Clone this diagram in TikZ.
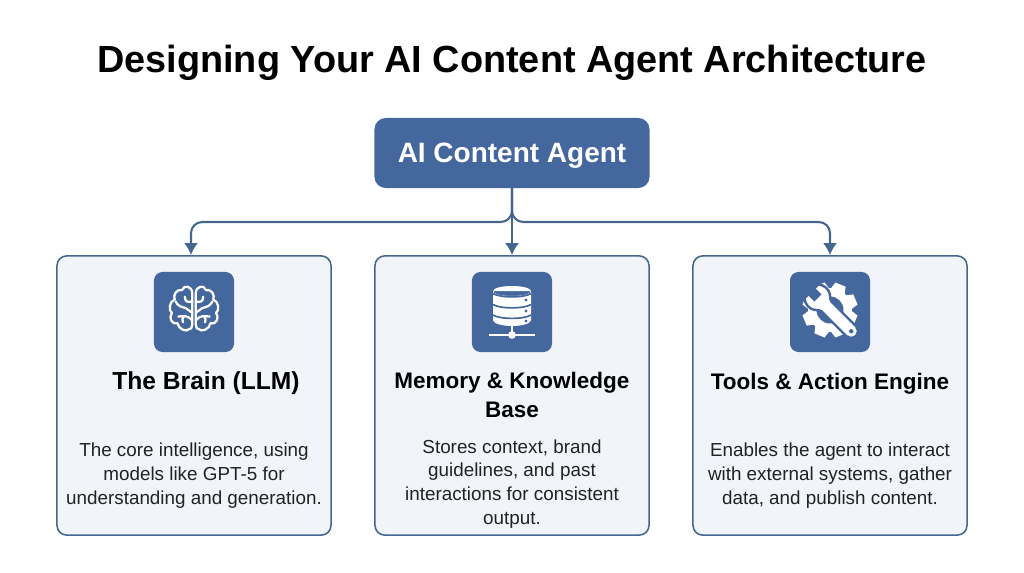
\documentclass[tikz,border=0pt]{standalone}
\usepackage{fontspec}
\setmainfont{Liberation Sans}
\usepackage{xcolor}
\definecolor{agentblue}{HTML}{44679E}
\definecolor{cardline}{HTML}{44668F}
\definecolor{cardfill}{HTML}{F1F4F9}
\definecolor{textgrey}{HTML}{222222}
\usetikzlibrary{arrows.meta}
\tikzset{
	agentbox/.style={draw=none,fill=agentblue,rounded corners=8pt,minimum width=6.875cm,minimum height=1.75cm,text=white,font=\fontsize{19.9}{24}\selectfont\bfseries},
	cardbox/.style={draw=cardline,line width=1.1pt,fill=cardfill,rounded corners=7pt,minimum width=6.85cm,minimum height=6.98cm},
	iconbox/.style={fill=agentblue,rounded corners=6pt,minimum size=2cm},
	cardhead/.style={font=\fontsize{16}{20}\selectfont\bfseries,align=center,text=black},
	cardtext/.style={font=\fontsize{13.4}{17}\selectfont,align=center,text=textgrey},
	conn/.style={draw=cardline,line width=1.5pt,-{Latex[length=8.5pt,width=10pt]}},
	glyph/.style={draw=white,line width=1.6pt,line cap=round,line join=round}
}
\newcommand{\wrenchpath}{(-25,-9) .. controls (-22,-12) and (-16,-12.5) .. (-12,-10) .. controls (-9,-8) and (-8,-5.5) .. (-5,-5.5) -- (30,-5.5) arc (-90:90:5.5) -- (-5,5.5) .. controls (-8,5.5) and (-9,8) .. (-12,10) .. controls (-16,12.5) and (-22,12) .. (-25,9) -- cycle}
\begin{document}
\begin{tikzpicture}[x=0.025cm,y=-0.025cm]
	\useasboundingbox (0,0) rectangle (1024,572);
	\node (title) at (512,62.5) {\fontsize{26.9}{30}\selectfont\bfseries Designing Your AI Content Agent Architecture};

	\node[agentbox] (agent) at (512,153) {\raisebox{-7pt}[0pt][0pt]{AI Content Agent}};
	\coordinate (fork) at (512,222);
	\coordinate (brainin) at (191,255);

	\node[cardbox] (brain) at (194,395.5) {};
	\node[cardbox] (memory) at (512,395.5) {};
	\node[cardbox] (tools) at (830,395.5) {};

	\draw[conn,rounded corners=8pt] (agent.south) -- (fork) -| (brainin);
	\draw[conn,rounded corners=8pt] (agent.south) -- (fork) -| (tools.north);
	\draw[conn] (agent.south) -- (memory.north);

	\node[iconbox] (brainicon) at (194,312) {};
	\node[iconbox] (memoryicon) at (512,312) {};
	\node[iconbox] (toolsicon) at (830,312) {};

	% brain
	\foreach \s in {1,-1} {
		\begin{scope}[shift={(194,309)},xscale=\s*.92,yscale=.95]
			\draw[glyph] (2,-17) .. controls (2,-24) and (11,-26) .. (13,-20) .. controls (19,-21) and (23,-15) .. (21,-10) .. controls (27,-8) and (28,2) .. (24,4) .. controls (28,9) and (24,17) .. (18,15) .. controls (17,21) and (8,25) .. (5,21) .. controls (4,22) and (2,20) .. (2,17) -- cycle;
			\draw[glyph] (2,4) -- (9,-1) .. controls (13,-2) and (18,-3) .. (20,-8);
			\draw[glyph] (2,-8) .. controls (6,-7) and (10,-7) .. (10,-13);
			\draw[glyph] (2,12) .. controls (6,7) and (11,7) .. (17,8) (11,7.5) .. controls (13,10) and (13,12) .. (12,14);
		\end{scope}
	}

	% database
	\fill[white] (493,291) arc (180:360:19 and -5) -- (531,320) arc (0:-180:19 and -6) -- cycle;
	\fill[white] (493,291) arc (180:0:19 and -5) -- cycle;
	\draw[agentblue,line width=1.2pt] (493,293.5) .. controls (500,298) and (524,298) .. (531,293.5);
	\draw[agentblue,line width=1.2pt] (493,304.5) .. controls (500,309) and (524,309) .. (531,304.5);
	\draw[agentblue,line width=1.2pt] (493,315) .. controls (500,319.5) and (524,319.5) .. (531,315);
	\fill[agentblue] (526,300) circle (1.6) (526,311) circle (1.6) (526,321) circle (1.6);
	\draw[white,line width=1.6pt] (489,335) -- (535,335) (512,326) -- (512,335);
	\fill[white] (512,335) circle (3.8);

	% gear and wrench
	\begin{scope}[shift={(830,310)}]
		\foreach \a in {0,45,...,315} {
			\fill[white,rotate=\a+22.5] (-5.5,-27.5) -- (5.5,-27.5) -- (8,-18) -- (-8,-18) -- cycle;
		}
		\fill[white] (0,0) circle (22);
		\fill[agentblue] (0,0) circle (13.5);
		\begin{scope}[rotate=-45]
			\draw[agentblue,line width=3.6pt,fill=white] \wrenchpath;
			\fill[white] \wrenchpath;
			\fill[agentblue] (-27,-5) rectangle (-17,5);
			\fill[agentblue] (30,0) circle (2.2);
		\end{scope}
	\end{scope}

	\node[cardhead,font=\fontsize{17.5}{20}\selectfont\bfseries] (brainhead) at (206,383) {The Brain (LLM)};
	\node[cardhead] (memoryhead) at (512,395) {Memory \& Knowledge\\Base};
	\node[cardhead] (toolshead) at (830,384) {Tools \& Action Engine};

	\node[cardtext] (braintext) at (194,476) {The core intelligence, using\\models like GPT-5 for\\understanding and generation.};
	\node[cardtext] (memorytext) at (512,484) {Stores context, brand\\guidelines, and past\\interactions for consistent\\output.};
	\node[cardtext] (toolstext) at (830,476) {Enables the agent to interact\\with external systems, gather\\data, and publish content.};
\end{tikzpicture}
\end{document}
